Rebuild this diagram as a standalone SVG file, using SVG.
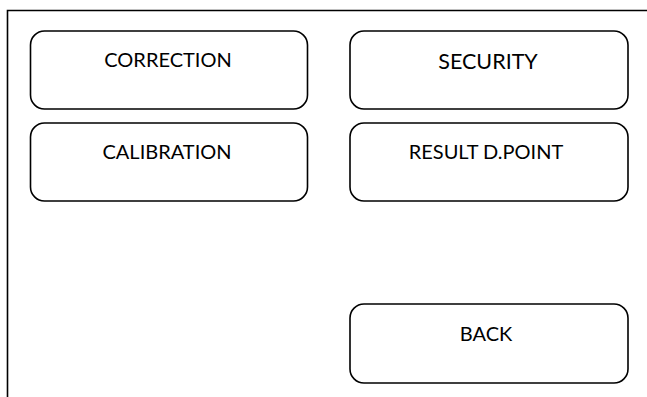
<svg xmlns="http://www.w3.org/2000/svg" width="647" height="397" viewBox="0 0 647 397">
<style>
.btn{fill:#fff;stroke:#000;stroke-width:1.6}
.lbl{font-family:Lato,"Liberation Sans",sans-serif;font-size:20px;fill:#000;text-anchor:middle}
.frame{fill:none;stroke:#000;stroke-width:1.6}
</style>
<rect width="647" height="397" fill="#fff"/>
<path class="frame" d="M7.5,397 V10.5 H647"/>
<g id="correction"><rect class="btn" x="30.5" y="31" width="277" height="78" rx="14"/><text class="lbl" x="168" y="67.3">CORRECTION</text></g>
<g id="security"><rect class="btn" x="350" y="31" width="278" height="78" rx="14"/><text class="lbl" x="488" y="69.3" style="font-size:21.5px">SECURITY</text></g>
<g id="calibration"><rect class="btn" x="30.5" y="123" width="277" height="78" rx="14"/><text class="lbl" x="167" y="159.3">CALIBRATION</text></g>
<g id="result"><rect class="btn" x="350" y="123" width="278" height="78" rx="14"/><text class="lbl" x="486" y="159.3">RESULT D.POINT</text></g>
<g id="back"><rect class="btn" x="350" y="304" width="278" height="79" rx="14"/><text class="lbl" x="486" y="341">BACK</text></g>
<g id="connectors"/>
</svg>
